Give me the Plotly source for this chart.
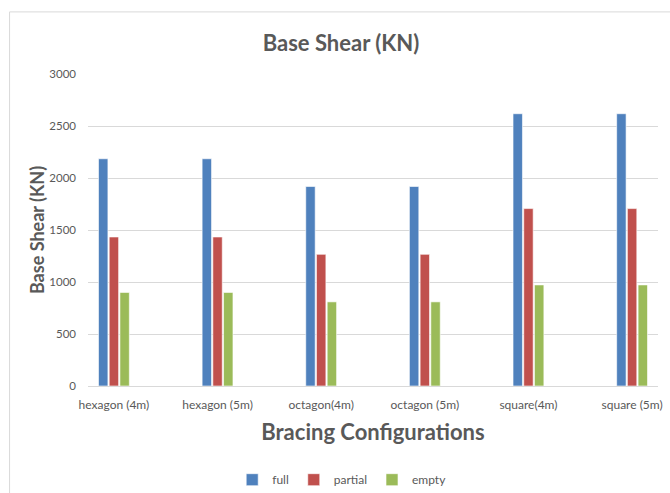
import plotly.graph_objects as go

categories = ["hexagon (4m)", "hexagon (5m)", "octagon(4m)", "octagon (5m)", "square(4m)", "square (5m)"]
full = [2185, 2185, 1918, 1918, 2618, 2618]
partial = [1433, 1433, 1266, 1266, 1706, 1706]
empty = [900, 900, 809, 809, 972, 972]
y_ticks = [0, 500, 1000, 1500, 2000, 2500, 3000]

series = [("full", full, "#4F81BD"), ("partial", partial, "#C0504D"), ("empty", empty, "#9BBB59")]

fig = go.Figure()
for name, vals, color in series:
    fig.add_trace(go.Bar(
        name=name, x=categories, y=vals,
        marker=dict(color=color, line=dict(color="rgba(255,255,255,0.6)", width=1)),
    ))

font_family = "Lato, Open Sans, sans-serif"
fig.update_layout(
    width=670, height=493,
    margin=dict(l=88, r=8, t=74, b=107),
    paper_bgcolor="white", plot_bgcolor="white",
    barmode="group", bargap=0.69, bargroupgap=0.12,
    font=dict(family=font_family, color="#595959", size=11),
    title=dict(text="<b>Base Shear (KN)</b>", x=0.509, xanchor="center", y=0.913, yanchor="middle",
               font=dict(size=22, color="#595959", family=font_family)),
    showlegend=True,
    legend=dict(orientation="h", x=0.51, xanchor="center", y=0.027, yanchor="middle",
                xref="container", yref="container",
                font=dict(size=12, color="#595959"), itemwidth=30, traceorder="normal",
                entrywidth=0),
    xaxis=dict(
        range=[-0.25, 5.25], showgrid=False, showline=True, linecolor="#D9D9D9", linewidth=1,
        ticks="", ticklabelstandoff=8, tickfont=dict(size=12, color="#595959"),
        title=dict(text="<b>Bracing Configurations</b>", font=dict(size=22, color="#595959"), standoff=13),
    ),
    yaxis=dict(
        range=[0, 3000], tickvals=y_ticks, showgrid=True, gridcolor="#D9D9D9", gridwidth=1,
        zeroline=False, ticks="", ticklabelstandoff=11, tickfont=dict(size=11.5, color="#595959"),
        title=dict(text="<b>Base Shear (KN)</b>", font=dict(size=18, color="#595959"), standoff=0),
    ),
    shapes=[dict(type="rect", xref="paper", yref="paper", x0=-0.1376, x1=1.03, y0=-0.45, y1=1.199,
                 line=dict(color="#D9D9D9", width=1), fillcolor="rgba(0,0,0,0)", layer="below")],
)

fig.write_html("out.html", config={"displayModeBar": False},
               post_script="document.body.style.margin='0';")
